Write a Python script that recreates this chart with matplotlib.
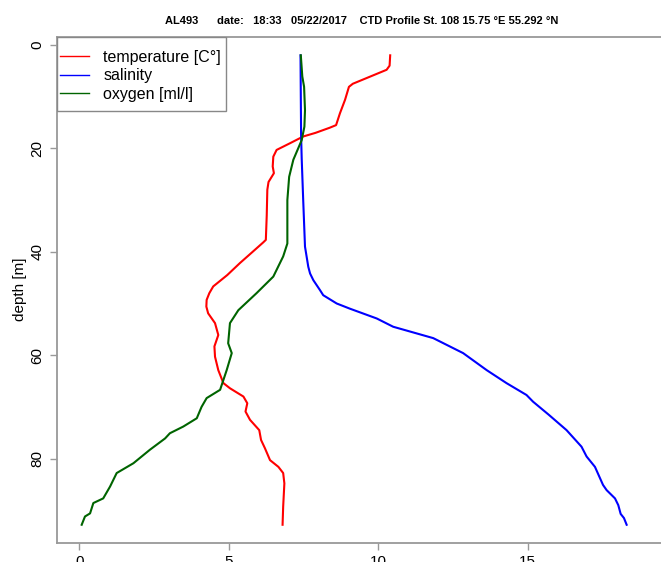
"""
CTD profile plot: temperature, salinity and oxygen against depth
"""

import matplotlib.pyplot as plt
from matplotlib.patches import Rectangle

plt.rcParams["font.family"] = ["Liberation Sans", "DejaVu Sans"]

# -------------------------------------------------------
# DATA
# -------------------------------------------------------

temp_depth = [2, 4, 4.8, 7.5, 8.1, 10.6, 13.2, 15.5, 16.0, 17.0, 17.7, 19.0,
              20.3, 21.6, 23.5, 24.8, 26.5, 28, 33, 37.7, 38.2, 40, 42.2, 44.5,
              46.7, 48, 49.3, 50.6, 51.9, 53.8, 56.1, 58.3, 60.3, 62.9, 65.4,
              66.4, 68, 69.3, 70.9, 72.5, 74.5, 76.4, 78, 80.3, 81.6, 82.8,
              84.8, 89.3, 92.8]
temperature = [10.4, 10.38, 10.28, 9.15, 9.02, 8.89, 8.72, 8.59, 8.38, 7.9,
               7.49, 7.05, 6.6, 6.49, 6.47, 6.51, 6.33, 6.29, 6.27, 6.24, 6.15,
               5.8, 5.37, 4.95, 4.48, 4.35, 4.26, 4.25, 4.31, 4.54, 4.65, 4.52,
               4.54, 4.65, 4.82, 5.04, 5.49, 5.62, 5.56, 5.71, 6.02, 6.08, 6.21,
               6.38, 6.66, 6.82, 6.86, 6.82, 6.80]

sal_depth = [2, 10, 17.7, 22, 30, 39, 42.9, 44.2, 45.5, 47.4, 48.4, 50, 51,
             52.9, 54.5, 56.7, 59.6, 62.9, 65.4, 67.7, 69, 71.5, 74.5, 77.7,
             79.6, 81.6, 85.1, 86.1, 87.7, 89, 90.7, 91.5, 92.8]
salinity = [7.40, 7.41, 7.42, 7.44, 7.49, 7.55, 7.66, 7.72, 7.83, 8.05, 8.16,
            8.61, 9.05, 9.95, 10.5, 11.84, 12.84, 13.63, 14.29, 14.96, 15.18,
            15.7, 16.3, 16.8, 16.97, 17.25, 17.52, 17.64, 17.92, 18.03, 18.11,
            18.22, 18.31]

oxy_depth = [2, 6.1, 8.1, 12.6, 15.8, 18.4, 22.2, 25.5, 30, 38.4, 40.9, 44.8,
             48, 51.3, 53.8, 57.7, 59.6, 62.9, 64.8, 66.7, 68.3, 70, 72.2, 73.8,
             75.1, 76.1, 78.3, 80.9, 82.8, 85.4, 87.7, 88.6, 90.6, 91.2, 92.8]
oxygen = [7.41, 7.46, 7.52, 7.55, 7.53, 7.44, 7.16, 7.02, 6.96, 6.96, 6.82,
          6.49, 5.93, 5.32, 5.04, 4.98, 5.10, 4.93, 4.82, 4.71, 4.26, 4.09,
          3.93, 3.48, 3.03, 2.87, 2.36, 1.81, 1.25, 1.03, 0.80, 0.47, 0.36,
          0.19, 0.08]

title = ("AL493      date:   18:33   05/22/2017    "
         "CTD Profile St. 108 15.75 \u00b0E 55.292 \u00b0N")

# -------------------------------------------------------
# FIGURE (R base-graphics look, plot box runs past the right edge)
# -------------------------------------------------------

fig = plt.figure(figsize=(6.61, 5.62), dpi=100)
ax = fig.add_axes([57 / 661, 1 - 542.7 / 562, 610 / 661, 506.2 / 562])

ax.plot(temperature, temp_depth, color="#ff0000", lw=1.5, label="temperature [C\u00b0]")
ax.plot(salinity, sal_depth, color="#0000ff", lw=1.5, label="salinity")
ax.plot(oxygen, oxy_depth, color="darkgreen", lw=1.5, label="oxygen [ml/l]")

ax.set_xlim(-0.746, 19.66)
ax.set_ylim(96.27, -1.64)

ax.set_xticks([0, 5, 10, 15])
ax.set_yticks([0, 20, 40, 60, 80])

grey = "#999999"
for side in ["left", "bottom", "top"]:
    ax.spines[side].set_color(grey)
    ax.spines[side].set_linewidth(1.3)
ax.spines["right"].set_visible(False)

ax.tick_params(direction="out", length=5, width=1, color=grey,
               labelsize=11, pad=4)
for lab in ax.get_yticklabels():
    lab.set_rotation(90)
    lab.set_va("center")

ax.set_ylabel("depth [m]", fontsize=11)
ax.yaxis.set_label_coords(-0.049, 0.5)

ax.set_title(title, fontsize=8, fontweight="bold", pad=9)

# -------------------------------------------------------
# LEGEND (plain square box in the top-left corner)
# -------------------------------------------------------

box = Rectangle((0, 1 - 74 / 506.2), 169 / 610, 74 / 506.2,
                transform=ax.transAxes, facecolor="white",
                edgecolor="#888888", linewidth=1.0, zorder=4)
ax.add_patch(box)

leg = ax.legend(loc="upper left", bbox_to_anchor=(0, 1 - 10 / 506.2),
                borderaxespad=0, fontsize=11.5, frameon=False,
                handlelength=1.8, handletextpad=0.9, labelspacing=0.22,
                borderpad=0.2)
leg.set_zorder(5)
for line in leg.get_lines():
    line.set_linewidth(1.0)

plt.savefig("out.png", dpi=100)
